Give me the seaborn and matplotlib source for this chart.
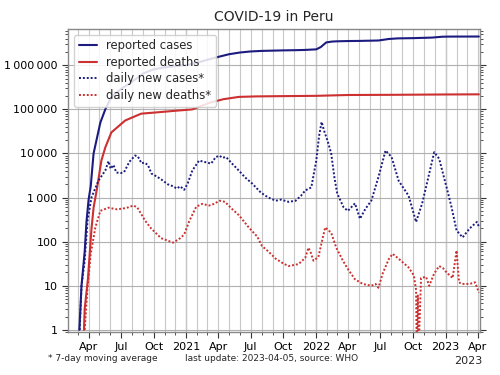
import pandas as pd
import matplotlib
matplotlib.use('Agg')
import matplotlib.pyplot as plt
import matplotlib.dates as mdates
import matplotlib.ticker as mticker
import seaborn as sns

# cumulative reported cases
case_dates = ['2020-03-06', '2020-03-12', '2020-03-21', '2020-03-26', '2020-04-01', '2020-04-07',
              '2020-04-15', '2020-05-04', '2020-05-18', '2020-06-04', '2020-07-01', '2020-08-01',
              '2020-09-01', '2020-10-01', '2020-11-01', '2020-12-01', '2021-01-01', '2021-02-01',
              '2021-03-01', '2021-04-01', '2021-05-01', '2021-06-01', '2021-07-01', '2021-08-01',
              '2021-09-01', '2021-10-01', '2021-11-01', '2021-12-01', '2022-01-02', '2022-01-15',
              '2022-01-30', '2022-02-15', '2022-03-01', '2022-04-01', '2022-05-01', '2022-06-26',
              '2022-07-25', '2022-08-20', '2022-10-01', '2022-11-24', '2022-12-23', '2023-01-15',
              '2023-03-01', '2023-04-05']
case_totals = [1, 10, 60, 280, 900, 1800, 10000, 50000, 100000, 190000, 290000, 420000,
               650000, 810000, 900000, 960000, 1010000, 1150000, 1330000, 1550000, 1780000,
               1950000, 2060000, 2120000, 2150000, 2180000, 2200000, 2230000, 2300000, 2600000,
               3300000, 3450000, 3500000, 3550000, 3570000, 3650000, 3950000, 4080000, 4130000,
               4250000, 4450000, 4480000, 4488000, 4495000]

# cumulative reported deaths
death_dates = ['2020-03-19', '2020-03-21', '2020-03-30', '2020-04-09', '2020-04-15', '2020-04-24',
               '2020-05-07', '2020-05-18', '2020-06-04', '2020-07-13', '2020-08-27', '2020-10-13',
               '2020-12-01', '2021-01-18', '2021-03-06', '2021-04-15', '2021-05-29', '2021-07-15',
               '2021-10-01', '2022-01-01', '2022-04-01', '2022-08-01', '2023-01-01', '2023-04-05']
death_totals = [1, 3, 14, 190, 590, 1500, 6900, 13700, 30000, 56000, 80000, 86000,
                93000, 100000, 140000, 170000, 192000, 197000, 200000, 203000, 212000,
                214000, 218000, 219500]

# daily new cases, 7-day moving average
daily_case_dates = ['2020-03-07', '2020-03-12', '2020-03-21', '2020-03-29', '2020-04-09', '2020-04-29',
                    '2020-05-18', '2020-05-27', '2020-06-02', '2020-06-10', '2020-06-18', '2020-07-01',
                    '2020-07-10', '2020-07-25', '2020-08-10', '2020-08-18', '2020-08-28', '2020-09-05',
                    '2020-09-15', '2020-09-25', '2020-10-10', '2020-10-25', '2020-11-10', '2020-11-25',
                    '2020-12-05', '2020-12-15', '2020-12-26', '2021-01-05', '2021-01-18', '2021-02-06',
                    '2021-02-26', '2021-03-12', '2021-03-25', '2021-04-05', '2021-04-12', '2021-04-23',
                    '2021-05-10', '2021-05-29', '2021-06-15', '2021-07-05', '2021-07-30', '2021-08-20',
                    '2021-09-10', '2021-09-25', '2021-10-16', '2021-11-05', '2021-11-20', '2021-12-02',
                    '2021-12-19', '2022-01-02', '2022-01-10', '2022-01-17', '2022-01-24', '2022-02-04',
                    '2022-02-13', '2022-02-22', '2022-03-02', '2022-03-20', '2022-04-01', '2022-04-21',
                    '2022-05-05', '2022-05-20', '2022-06-06', '2022-06-26', '2022-07-16', '2022-08-02',
                    '2022-08-22', '2022-09-19', '2022-10-10', '2022-10-27', '2022-11-16', '2022-11-30',
                    '2022-12-14', '2023-01-04', '2023-01-18', '2023-02-01', '2023-02-18', '2023-03-10',
                    '2023-03-30', '2023-04-05']
daily_cases = [1, 10, 37, 300, 1000, 2450, 4100, 6700, 4500, 5500, 3700, 3600,
               3800, 6500, 9000, 8500, 6000, 6200, 5500, 3500, 3000, 2500, 2000, 1800,
               1600, 1800, 1500, 2100, 4100, 6900, 6300, 5900, 8300, 8900, 8000, 8300,
               5900, 4100, 2900, 2100, 1300, 1000, 850, 900, 800, 850, 1100, 1450,
               1700, 6900, 25000, 52000, 33000, 18000, 10000, 2900, 1240, 600, 500, 740,
               330, 550, 850, 2900, 11700, 8300, 2400, 1100, 280, 730, 3500, 10700,
               7600, 1700, 600, 180, 125, 200, 280, 220]

# daily new deaths, 7-day moving average
daily_death_dates = ['2020-03-21', '2020-03-29', '2020-04-07', '2020-04-20', '2020-05-04', '2020-05-27',
                     '2020-06-20', '2020-07-16', '2020-08-05', '2020-08-16', '2020-09-07', '2020-09-24',
                     '2020-10-22', '2020-11-25', '2020-12-15', '2020-12-26', '2021-01-10', '2021-01-29',
                     '2021-02-15', '2021-03-06', '2021-03-20', '2021-04-05', '2021-04-20', '2021-05-10',
                     '2021-05-29', '2021-06-26', '2021-07-20', '2021-08-02', '2021-08-20', '2021-09-10',
                     '2021-10-01', '2021-10-16', '2021-11-13', '2021-12-02', '2021-12-11', '2021-12-18',
                     '2021-12-25', '2022-01-08', '2022-01-20', '2022-01-27', '2022-02-13', '2022-02-27',
                     '2022-03-18', '2022-04-01', '2022-04-21', '2022-05-13', '2022-06-06', '2022-06-18',
                     '2022-06-26', '2022-07-08', '2022-07-25', '2022-08-05', '2022-08-22', '2022-09-19',
                     '2022-10-04', '2022-10-10', '2022-10-12', '2022-10-15', '2022-10-17', '2022-10-24',
                     '2022-11-07', '2022-11-16', '2022-11-30', '2022-12-14', '2022-12-25', '2023-01-04',
                     '2023-01-21', '2023-02-01', '2023-02-08', '2023-02-15', '2023-03-10', '2023-03-25',
                     '2023-04-05']
daily_deaths = [1, 9, 53, 210, 500, 590, 540, 580, 660, 600, 300, 200,
                120, 95, 120, 145, 300, 620, 720, 660, 720, 850, 800, 550,
                400, 210, 130, 80, 60, 41, 32, 28, 31, 43, 73, 55,
                37, 45, 120, 210, 160, 74, 37, 24, 14, 11, 10, 11,
                9, 19, 40, 53, 41, 26, 17, 8, 0.3, 6, 0.3, 15,
                16, 10, 19, 28, 25, 20, 15, 63, 12, 11, 11, 12,
                7]

cases = pd.DataFrame({'date': pd.to_datetime(case_dates), 'value': case_totals})
deaths = pd.DataFrame({'date': pd.to_datetime(death_dates), 'value': death_totals})
new_cases = pd.DataFrame({'date': pd.to_datetime(daily_case_dates), 'value': daily_cases})
new_deaths = pd.DataFrame({'date': pd.to_datetime(daily_death_dates), 'value': daily_deaths})

sns.set_style('white')
plt.rcParams['font.family'] = ['DejaVu Sans']

blue = '#1c1c80'
red = '#cc3030'
dots = (0, (1, 1))

fig, ax = plt.subplots(figsize=(5, 3.75), dpi=100)
fig.subplots_adjust(left=0.136, right=0.96, top=0.923, bottom=0.115)

sns.lineplot(data=cases, x='date', y='value', ax=ax, color=blue, lw=1.5, label='reported cases')
sns.lineplot(data=deaths, x='date', y='value', ax=ax, color=red, lw=1.5, label='reported deaths')
sns.lineplot(data=new_cases, x='date', y='value', ax=ax, color=blue, lw=1.4, linestyle=dots,
             label='daily new cases*')
sns.lineplot(data=new_deaths, x='date', y='value', ax=ax, color=red, lw=1.4, linestyle=dots,
             label='daily new deaths*')

ax.set_yscale('log')
ax.set_ylim(0.9, 6.7e6)
ax.set_xlim(pd.Timestamp('2020-02-03'), pd.Timestamp('2023-04-08'))

ax.yaxis.set_major_locator(mticker.LogLocator(base=10, numticks=10))
ax.yaxis.set_minor_locator(mticker.LogLocator(base=10, subs=range(2, 10), numticks=100))
ax.yaxis.set_major_formatter(mticker.FuncFormatter(lambda v, p: f'{int(round(v)):,}'.replace(',', '\u2009')))
ax.yaxis.set_minor_formatter(mticker.NullFormatter())

loc = mdates.MonthLocator(bymonth=[1, 4, 7, 10])
ax.xaxis.set_major_locator(loc)
ax.xaxis.set_major_formatter(mdates.ConciseDateFormatter(loc, show_offset=False))
ax.xaxis.set_minor_locator(mdates.MonthLocator())

ax.tick_params(axis='both', which='both', direction='out', labelsize=8, colors='#333333', labelcolor='black')
ax.tick_params(axis='y', which='both', right=True, left=True)
ax.tick_params(axis='x', which='both', bottom=True)
ax.tick_params(which='major', length=4)
ax.tick_params(which='minor', length=2.5)

ax.grid(True, axis='x', which='both', color='#c8c8c8', lw=0.8)
ax.grid(True, axis='y', which='major', color='#b0b0b0', lw=0.8)
for yr in ['2021-01-01', '2022-01-01', '2023-01-01']:
    ax.axvline(pd.Timestamp(yr), color='#999999', lw=0.9, zorder=0.5)

for s in ax.spines.values():
    s.set_color('#888888')
    s.set_linewidth(1.0)

ax.set_xlabel('')
ax.set_ylabel('')
ax.set_title('COVID-19 in Peru', fontsize=10, pad=6)

ax.legend(loc='upper left', fontsize=8.4, handlelength=1.6, frameon=True, framealpha=0.85,
          edgecolor='#cccccc', borderpad=0.4, labelspacing=0.3)

fig.text(0.964, 0.03, '2023', fontsize=8, ha='right')
fig.text(0.095, 0.038, '* 7-day moving average', fontsize=6.5)
fig.text(0.37, 0.038, 'last update: 2023-04-05, source: WHO', fontsize=6.5)

plt.savefig('out.png', dpi=100)
plt.close()
